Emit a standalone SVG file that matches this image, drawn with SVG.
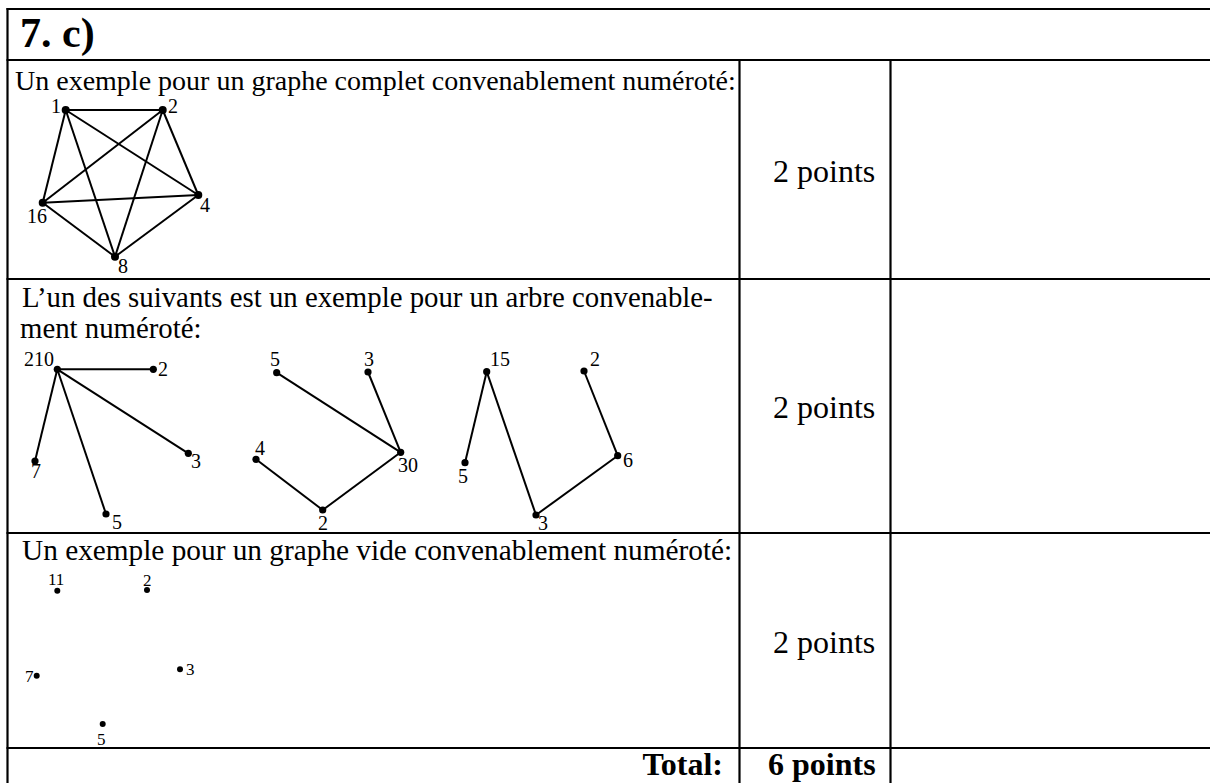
<svg xmlns="http://www.w3.org/2000/svg" width="1210" height="783" viewBox="0 0 1210 783">
<style>
.grid{stroke:#000;stroke-width:2.2;fill:none}
.t{font-family:"Liberation Serif","Times New Roman",serif;fill:#000}
.body{font-size:28px}
.pts{font-size:32px}
.bold{font-weight:bold}
.lab{font-size:20px}
.slab{font-size:17px}
.e{stroke:#000;stroke-width:2;fill:none}
.n{fill:#000}
</style>
<rect width="1210" height="783" fill="#fff"/>
<g id="table">
<line class="grid" x1="6.5" y1="9" x2="1210" y2="9"/>
<line class="grid" x1="7.5" y1="8" x2="7.5" y2="783"/>
<line class="grid" x1="6.5" y1="60" x2="1210" y2="60"/>
<line class="grid" x1="6.5" y1="279" x2="1210" y2="279"/>
<line class="grid" x1="6.5" y1="533" x2="1210" y2="533"/>
<line class="grid" x1="6.5" y1="748" x2="1210" y2="748"/>
<line class="grid" x1="739.5" y1="60" x2="739.5" y2="783"/>
<line class="grid" x1="890.5" y1="60" x2="890.5" y2="783"/>
</g>
<g id="texts">
<text class="t bold" x="20" y="47" style="font-size:42px">7. c)</text>
<text class="t body" x="15" y="90">Un exemple pour un graphe complet convenablement numéroté:</text>
<text class="t pts" x="773" y="182">2 points</text>
<text class="t" x="22" y="307" style="font-size:28.8px">L’un des suivants est un exemple pour un arbre convenable-</text>
<text class="t" x="20" y="338" style="font-size:28.8px">ment numéroté:</text>
<text class="t pts" x="773" y="418">2 points</text>
<text class="t" x="22" y="560" style="font-size:29.3px">Un exemple pour un graphe vide convenablement numéroté:</text>
<text class="t pts" x="773" y="653">2 points</text>
<text class="t bold" x="723" y="775" style="font-size:32px" text-anchor="end">Total:</text>
<text class="t bold" x="768" y="775" style="font-size:32px">6 points</text>
</g>
<g id="connectors">
<line class="e" x1="65.7" y1="110" x2="162.7" y2="110"/>
<line class="e" x1="65.7" y1="110" x2="198.3" y2="195"/>
<line class="e" x1="65.7" y1="110" x2="42.7" y2="202.7"/>
<line class="e" x1="65.7" y1="110" x2="115" y2="256.7"/>
<line class="e" x1="162.7" y1="110" x2="198.3" y2="195"/>
<line class="e" x1="162.7" y1="110" x2="42.7" y2="202.7"/>
<line class="e" x1="162.7" y1="110" x2="115" y2="256.7"/>
<line class="e" x1="198.3" y1="195" x2="42.7" y2="202.7"/>
<line class="e" x1="198.3" y1="195" x2="115" y2="256.7"/>
<line class="e" x1="42.7" y1="202.7" x2="115" y2="256.7"/>
<line class="e" x1="57.3" y1="369.3" x2="153.3" y2="369.3"/>
<line class="e" x1="57.3" y1="369.3" x2="188.3" y2="453.3"/>
<line class="e" x1="57.3" y1="369.3" x2="35" y2="461"/>
<line class="e" x1="57.3" y1="369.3" x2="106" y2="514"/>
<line class="e" x1="276.7" y1="372.7" x2="400.7" y2="452.3"/>
<line class="e" x1="368" y1="372" x2="400.7" y2="452.3"/>
<line class="e" x1="400.7" y1="452.3" x2="322.7" y2="510"/>
<line class="e" x1="256" y1="459.3" x2="322.7" y2="510"/>
<line class="e" x1="486.7" y1="371.7" x2="465" y2="462.7"/>
<line class="e" x1="486.7" y1="371.7" x2="536" y2="515"/>
<line class="e" x1="536" y1="515" x2="617.7" y2="455.7"/>
<line class="e" x1="617.7" y1="455.7" x2="584" y2="371"/>
</g>
<g id="k5-1"><circle class="n" cx="65.7" cy="110" r="4"/><text class="t lab" x="51" y="113">1</text></g>
<g id="k5-2"><circle class="n" cx="162.7" cy="110" r="4"/><text class="t lab" x="168" y="113">2</text></g>
<g id="k5-4"><circle class="n" cx="198.3" cy="195" r="4"/><text class="t lab" x="200" y="212">4</text></g>
<g id="k5-16"><circle class="n" cx="42.7" cy="202.7" r="4"/><text class="t lab" x="27" y="223">16</text></g>
<g id="k5-8"><circle class="n" cx="115" cy="256.7" r="4"/><text class="t lab" x="118" y="273">8</text></g>
<g id="t1-210"><circle class="n" cx="57.3" cy="369.3" r="3.6"/><text class="t lab" x="24" y="366">210</text></g>
<g id="t1-2"><circle class="n" cx="153.3" cy="369.3" r="3.6"/><text class="t lab" x="158" y="376">2</text></g>
<g id="t1-3"><circle class="n" cx="188.3" cy="453.3" r="3.6"/><text class="t lab" x="191" y="468">3</text></g>
<g id="t1-7"><circle class="n" cx="35" cy="461" r="3.6"/><text class="t lab" x="31" y="478">7</text></g>
<g id="t1-5"><circle class="n" cx="106" cy="514" r="3.6"/><text class="t lab" x="112" y="529">5</text></g>
<g id="t2-5"><circle class="n" cx="276.7" cy="372.7" r="3.6"/><text class="t lab" x="270" y="366">5</text></g>
<g id="t2-3"><circle class="n" cx="368" cy="372" r="3.6"/><text class="t lab" x="364" y="366">3</text></g>
<g id="t2-30"><circle class="n" cx="400.7" cy="452.3" r="3.6"/><text class="t lab" x="398" y="472">30</text></g>
<g id="t2-4"><circle class="n" cx="256" cy="459.3" r="3.6"/><text class="t lab" x="255" y="455">4</text></g>
<g id="t2-2"><circle class="n" cx="322.7" cy="510" r="3.6"/><text class="t lab" x="318" y="530">2</text></g>
<g id="t3-15"><circle class="n" cx="486.7" cy="371.7" r="3.6"/><text class="t lab" x="490" y="366">15</text></g>
<g id="t3-2"><circle class="n" cx="584" cy="371" r="3.6"/><text class="t lab" x="590" y="366">2</text></g>
<g id="t3-5"><circle class="n" cx="465" cy="462.7" r="3.6"/><text class="t lab" x="458" y="483">5</text></g>
<g id="t3-6"><circle class="n" cx="617.7" cy="455.7" r="3.6"/><text class="t lab" x="623" y="467">6</text></g>
<g id="t3-3"><circle class="n" cx="536" cy="515" r="3.6"/><text class="t lab" x="538" y="530">3</text></g>
<g id="v-11"><circle class="n" cx="57.3" cy="590.7" r="3"/><text class="t slab" x="48" y="585">11</text></g>
<g id="v-2"><circle class="n" cx="147" cy="590" r="3"/><text class="t slab" x="143" y="586">2</text></g>
<g id="v-7"><circle class="n" cx="36.7" cy="675.7" r="3"/><text class="t slab" x="25" y="682">7</text></g>
<g id="v-3"><circle class="n" cx="180" cy="669.3" r="3"/><text class="t slab" x="186" y="675">3</text></g>
<g id="v-5"><circle class="n" cx="102.7" cy="724" r="3"/><text class="t slab" x="97" y="745">5</text></g>
</svg>
